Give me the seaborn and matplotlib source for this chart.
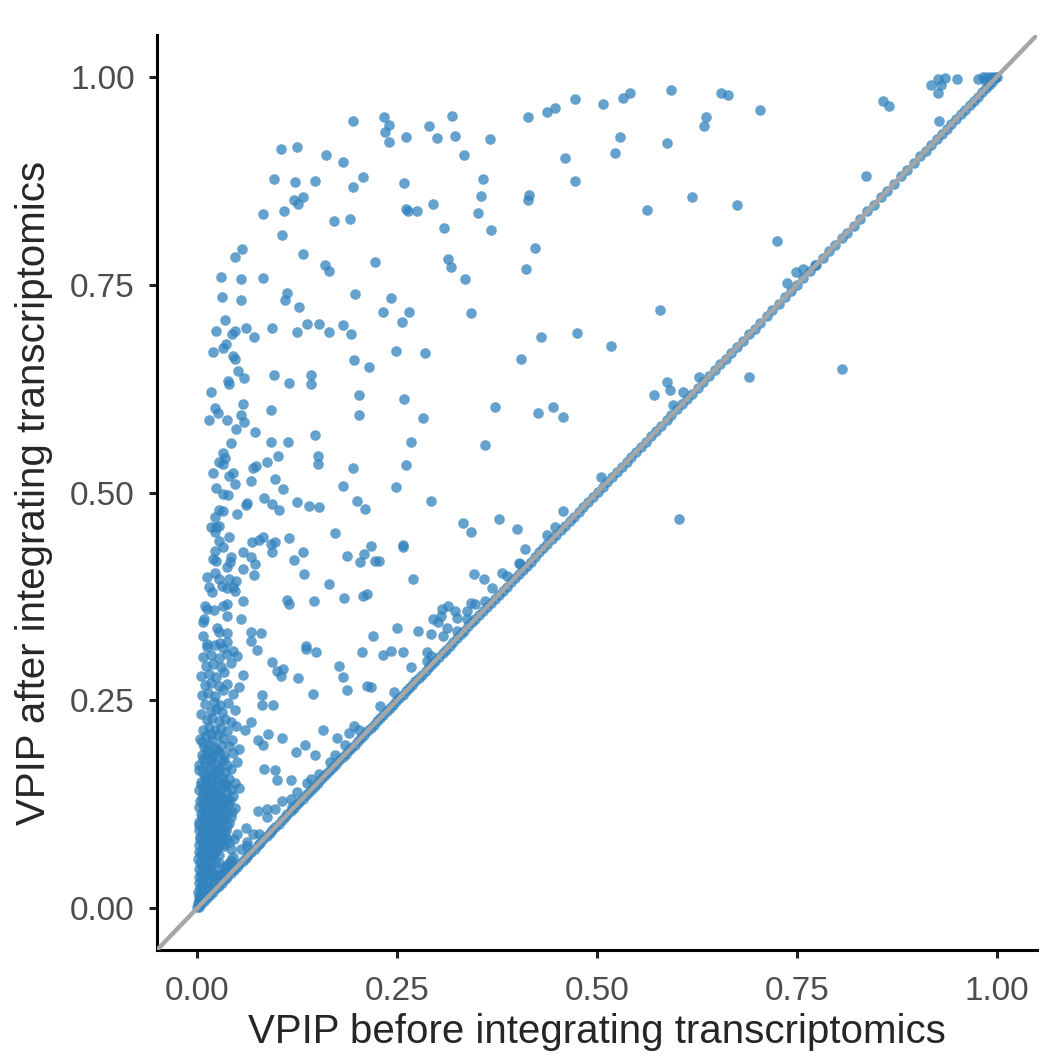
import pandas as pd
import seaborn as sns
import matplotlib.pyplot as plt

# scattered genes well above the diagonal (VPIP before, VPIP after)
upper_before = [0.195, 0.105, 0.125, 0.161, 0.183, 0.208, 0.096, 0.123, 0.147, 0.195, 0.121, 0.132,
                0.126, 0.083, 0.109, 0.171, 0.191, 0.106, 0.056, 0.047, 0.132, 0.160, 0.165, 0.223,
                0.030, 0.055, 0.083, 0.031, 0.055, 0.113, 0.110, 0.128, 0.197, 0.035, 0.024, 0.044,
                0.047, 0.061, 0.071, 0.094, 0.125, 0.137, 0.152, 0.165, 0.182, 0.192,
                0.473, 0.447, 0.437, 0.414, 0.234, 0.240, 0.235, 0.240, 0.319, 0.290, 0.261, 0.300,
                0.323, 0.366, 0.334, 0.460, 0.473, 0.358, 0.259, 0.355, 0.415, 0.414, 0.295, 0.261,
                0.264, 0.275, 0.351, 0.309, 0.368, 0.422, 0.314, 0.318, 0.411, 0.335, 0.242, 0.233,
                0.265, 0.256, 0.342, 0.430, 0.475,
                0.508, 0.532, 0.541, 0.593, 0.655, 0.664, 0.704, 0.636, 0.634, 0.529, 0.523, 0.587,
                0.619, 0.562, 0.675, 0.725, 0.579, 0.749, 0.758, 0.738, 0.773,
                0.917, 0.926, 0.935, 0.930, 0.926, 0.950, 0.976, 0.858, 0.865, 0.928, 0.836,
                0.982, 0.988, 0.993, 0.997, 1.000, 0.985, 0.994]
upper_after = [0.947, 0.913, 0.915, 0.906, 0.897, 0.879, 0.877, 0.873, 0.875, 0.867, 0.852, 0.855,
               0.847, 0.835, 0.838, 0.826, 0.829, 0.809, 0.793, 0.783, 0.787, 0.773, 0.766, 0.777,
               0.759, 0.757, 0.758, 0.735, 0.731, 0.740, 0.731, 0.723, 0.739, 0.707, 0.694, 0.691,
               0.694, 0.698, 0.687, 0.698, 0.693, 0.702, 0.703, 0.693, 0.701, 0.690,
               0.973, 0.962, 0.957, 0.951, 0.952, 0.942, 0.933, 0.921, 0.953, 0.941, 0.927, 0.926,
               0.928, 0.925, 0.906, 0.902, 0.875, 0.877, 0.872, 0.857, 0.858, 0.852, 0.847, 0.841,
               0.838, 0.839, 0.836, 0.818, 0.816, 0.794, 0.781, 0.771, 0.769, 0.757, 0.734, 0.717,
               0.717, 0.705, 0.716, 0.687, 0.692,
               0.967, 0.974, 0.980, 0.984, 0.980, 0.978, 0.960, 0.951, 0.941, 0.927, 0.908, 0.920,
               0.855, 0.840, 0.846, 0.802, 0.719, 0.765, 0.769, 0.752, 0.773,
               0.990, 0.997, 0.998, 0.990, 0.980, 0.997, 0.997, 0.971, 0.965, 0.947, 0.881,
               0.999, 1.000, 1.000, 1.000, 1.000, 0.996, 0.998]

mid_before = [0.020, 0.033, 0.036, 0.045, 0.048, 0.051, 0.059, 0.039, 0.040, 0.017, 0.096, 0.115,
              0.142, 0.143, 0.196, 0.215, 0.203, 0.203, 0.023, 0.026, 0.058, 0.055, 0.059, 0.015,
              0.038, 0.049, 0.072, 0.093, 0.093, 0.114, 0.148, 0.043, 0.032, 0.035, 0.028, 0.033,
              0.087, 0.101, 0.070, 0.074, 0.151, 0.151, 0.020, 0.040, 0.045, 0.048, 0.068, 0.097,
              0.107, 0.195, 0.183, 0.024, 0.032, 0.039, 0.084, 0.094, 0.103, 0.125, 0.140, 0.152,
              0.200, 0.210, 0.061, 0.063, 0.050, 0.028, 0.033, 0.023, 0.018, 0.024, 0.027, 0.023,
              0.040, 0.027, 0.032, 0.069, 0.078, 0.083, 0.093, 0.098, 0.094, 0.115, 0.133, 0.121,
              0.173, 0.218, 0.209, 0.204, 0.188, 0.223, 0.058, 0.068, 0.073, 0.022, 0.020, 0.024,
              0.043, 0.041, 0.038, 0.057, 0.071, 0.134, 0.165, 0.013, 0.022, 0.028, 0.040, 0.049,
              0.015, 0.019, 0.031, 0.038, 0.045, 0.048, 0.058, 0.113, 0.115, 0.146, 0.184, 0.207,
              0.213, 0.010, 0.013, 0.021, 0.032, 0.038, 0.038, 0.055, 0.009, 0.008, 0.025, 0.028,
              0.038, 0.067, 0.080, 0.068, 0.008, 0.013, 0.029, 0.038, 0.136, 0.220,
              0.249, 0.285, 0.405, 0.259, 0.283, 0.372, 0.426, 0.445, 0.458, 0.267, 0.360, 0.261,
              0.249, 0.292, 0.333, 0.343, 0.377, 0.400, 0.457, 0.438, 0.448, 0.410, 0.258, 0.258,
              0.227, 0.402, 0.404, 0.270, 0.346, 0.359, 0.381, 0.388, 0.369, 0.343, 0.348, 0.360,
              0.306, 0.314, 0.322, 0.305, 0.295, 0.301, 0.325, 0.337, 0.338, 0.250, 0.276, 0.293,
              0.308, 0.313, 0.325,
              0.518, 0.690, 0.587, 0.591, 0.571, 0.608, 0.595, 0.628, 0.505, 0.603, 0.806]
mid_after = [0.669, 0.674, 0.678, 0.664, 0.660, 0.646, 0.638, 0.634, 0.630, 0.621, 0.641, 0.632,
             0.641, 0.631, 0.659, 0.651, 0.617, 0.593, 0.602, 0.595, 0.606, 0.593, 0.585, 0.587,
             0.587, 0.576, 0.573, 0.599, 0.561, 0.561, 0.569, 0.559, 0.547, 0.542, 0.537, 0.534,
             0.537, 0.544, 0.530, 0.532, 0.544, 0.534, 0.523, 0.520, 0.523, 0.510, 0.514, 0.516,
             0.504, 0.529, 0.508, 0.506, 0.498, 0.497, 0.494, 0.486, 0.479, 0.489, 0.484, 0.483,
             0.490, 0.480, 0.485, 0.487, 0.474, 0.479, 0.478, 0.470, 0.459, 0.459, 0.460, 0.453,
             0.447, 0.442, 0.434, 0.440, 0.443, 0.447, 0.438, 0.441, 0.428, 0.445, 0.429, 0.419,
             0.451, 0.436, 0.426, 0.417, 0.424, 0.418, 0.429, 0.423, 0.414, 0.430, 0.420, 0.418,
             0.422, 0.416, 0.410, 0.408, 0.401, 0.402, 0.390, 0.399, 0.403, 0.396, 0.396, 0.394,
             0.386, 0.380, 0.388, 0.385, 0.386, 0.382, 0.370, 0.371, 0.366, 0.370, 0.373, 0.376,
             0.378, 0.363, 0.360, 0.359, 0.364, 0.366, 0.352, 0.348, 0.348, 0.344, 0.337, 0.332,
             0.331, 0.332, 0.331, 0.322, 0.327, 0.318, 0.319, 0.320, 0.316, 0.328,
             0.670, 0.668, 0.660, 0.613, 0.589, 0.603, 0.596, 0.603, 0.591, 0.561, 0.557, 0.533,
             0.507, 0.490, 0.463, 0.453, 0.468, 0.456, 0.478, 0.449, 0.458, 0.432, 0.437, 0.435,
             0.418, 0.415, 0.414, 0.396, 0.402, 0.396, 0.403, 0.400, 0.385, 0.367, 0.366, 0.370,
             0.360, 0.364, 0.358, 0.351, 0.348, 0.344, 0.349, 0.348, 0.357, 0.337, 0.334, 0.330,
             0.327, 0.337, 0.333,
             0.676, 0.639, 0.633, 0.623, 0.617, 0.621, 0.605, 0.639, 0.519, 0.468, 0.648]

low_before = [0.075, 0.136, 0.149, 0.206, 0.094, 0.100, 0.108, 0.105, 0.126, 0.177, 0.182, 0.188,
              0.212, 0.217, 0.145, 0.081, 0.081, 0.095, 0.068, 0.060, 0.089, 0.076, 0.083, 0.106,
              0.158, 0.175, 0.190, 0.196, 0.135, 0.124, 0.148, 0.084, 0.097, 0.100, 0.118, 0.138,
              0.152, 0.166, 0.076, 0.088, 0.088, 0.098, 0.106, 0.119, 0.061, 0.050, 0.063, 0.078,
              0.233, 0.242, 0.258, 0.267, 0.287, 0.288, 0.292, 0.246, 0.229,
              0.118, 0.125, 0.142, 0.172, 0.185, 0.203, 0.062, 0.055, 0.045, 0.035, 0.028, 0.040,
              0.070]
low_after = [0.311, 0.312, 0.308, 0.308, 0.296, 0.286, 0.288, 0.280, 0.277, 0.291, 0.278, 0.263,
             0.267, 0.266, 0.258, 0.257, 0.245, 0.244, 0.224, 0.215, 0.210, 0.202, 0.196, 0.205,
             0.215, 0.205, 0.211, 0.219, 0.197, 0.188, 0.184, 0.168, 0.167, 0.154, 0.154, 0.151,
             0.162, 0.176, 0.117, 0.120, 0.110, 0.120, 0.129, 0.122, 0.097, 0.089, 0.075, 0.090,
             0.305, 0.309, 0.308, 0.290, 0.308, 0.298, 0.304, 0.260, 0.243,
             0.132, 0.140, 0.156, 0.185, 0.197, 0.214, 0.080, 0.071, 0.062, 0.050, 0.041, 0.055,
             0.090]

# crowded cloud of genes with small VPIP before integration
dense_before = [0.000, 0.001, 0.002, 0.003, 0.001, 0.004, 0.002, 0.006, 0.008, 0.003, 0.005, 0.010,
                0.002, 0.007, 0.012, 0.015, 0.004, 0.009, 0.006, 0.010, 0.015, 0.020, 0.025, 0.022,
                0.018, 0.028, 0.038, 0.043, 0.030, 0.035,
                0.001, 0.006, 0.011, 0.016, 0.020, 0.003, 0.009, 0.014, 0.019, 0.024, 0.002, 0.007,
                0.012, 0.017, 0.022, 0.028, 0.004, 0.009, 0.015, 0.020, 0.025, 0.031, 0.002, 0.007,
                0.013, 0.018, 0.024, 0.030, 0.036, 0.042, 0.046, 0.040, 0.034,
                0.003, 0.009, 0.015, 0.021, 0.027, 0.033, 0.040, 0.005, 0.011, 0.017, 0.023, 0.029,
                0.036, 0.044, 0.002, 0.008, 0.014, 0.020, 0.026, 0.032, 0.039, 0.048, 0.006, 0.012,
                0.018, 0.024, 0.031, 0.037, 0.045, 0.003, 0.010, 0.016, 0.022, 0.029, 0.035, 0.042,
                0.052,
                0.005, 0.011, 0.018, 0.025, 0.032, 0.040, 0.047, 0.008, 0.015, 0.021, 0.028, 0.035,
                0.042, 0.003, 0.010, 0.017, 0.024, 0.031, 0.038, 0.050, 0.006, 0.013, 0.020, 0.027,
                0.034, 0.045, 0.009, 0.016, 0.023, 0.030, 0.040, 0.053,
                0.004, 0.011, 0.019, 0.026, 0.033, 0.044, 0.007, 0.015, 0.022, 0.030, 0.038, 0.049,
                0.012, 0.019, 0.027, 0.035, 0.042, 0.005, 0.017, 0.024, 0.031, 0.047, 0.010, 0.021,
                0.029, 0.039,
                0.006, 0.014, 0.023, 0.033, 0.045, 0.010, 0.018, 0.027, 0.038, 0.052, 0.005, 0.015,
                0.024, 0.034, 0.058, 0.011, 0.020, 0.030, 0.043, 0.007, 0.017, 0.027, 0.037, 0.050,
                0.013, 0.023, 0.033, 0.045]
dense_after = [0.002, 0.006, 0.010, 0.015, 0.020, 0.024, 0.030, 0.028, 0.034, 0.038, 0.043, 0.040,
               0.047, 0.050, 0.046, 0.052, 0.055, 0.058, 0.012, 0.015, 0.025, 0.030, 0.035, 0.040,
               0.048, 0.055, 0.052, 0.058, 0.042, 0.045,
               0.060, 0.064, 0.062, 0.060, 0.063, 0.068, 0.071, 0.070, 0.072, 0.069, 0.076, 0.079,
               0.078, 0.081, 0.079, 0.080, 0.086, 0.089, 0.087, 0.090, 0.088, 0.086, 0.094, 0.097,
               0.096, 0.099, 0.097, 0.095, 0.093, 0.072, 0.084, 0.080, 0.075,
               0.104, 0.106, 0.103, 0.107, 0.105, 0.108, 0.103, 0.113, 0.116, 0.113, 0.117, 0.114,
               0.112, 0.116, 0.122, 0.125, 0.123, 0.127, 0.124, 0.122, 0.126, 0.121, 0.133, 0.136,
               0.133, 0.137, 0.134, 0.132, 0.135, 0.142, 0.145, 0.143, 0.146, 0.141, 0.147, 0.143,
               0.145,
               0.152, 0.155, 0.153, 0.157, 0.152, 0.156, 0.151, 0.163, 0.166, 0.162, 0.167, 0.164,
               0.168, 0.172, 0.175, 0.178, 0.174, 0.177, 0.173, 0.176, 0.184, 0.186, 0.183, 0.188,
               0.185, 0.187, 0.194, 0.197, 0.193, 0.196, 0.195, 0.192,
               0.204, 0.207, 0.203, 0.208, 0.205, 0.203, 0.215, 0.218, 0.214, 0.217, 0.213, 0.219,
               0.226, 0.229, 0.225, 0.228, 0.224, 0.234, 0.237, 0.240, 0.236, 0.238, 0.246, 0.248,
               0.245, 0.247,
               0.256, 0.259, 0.255, 0.262, 0.258, 0.268, 0.271, 0.267, 0.270, 0.266, 0.279, 0.282,
               0.278, 0.284, 0.281, 0.291, 0.294, 0.290, 0.295, 0.302, 0.305, 0.301, 0.306, 0.303,
               0.314, 0.317, 0.313, 0.310]

# more genes packed into the bottom of the cloud
packed_before = [0.004, 0.008, 0.012, 0.006, 0.014, 0.019, 0.010, 0.017, 0.023, 0.005, 0.013, 0.021,
                 0.027, 0.008, 0.016, 0.026, 0.033, 0.004, 0.012, 0.020, 0.029, 0.038, 0.007, 0.015,
                 0.025, 0.034, 0.003, 0.012, 0.020, 0.028, 0.037, 0.006, 0.014, 0.025, 0.033, 0.043,
                 0.009, 0.019, 0.028, 0.036, 0.004, 0.013, 0.022, 0.032, 0.041, 0.008, 0.018, 0.027,
                 0.037, 0.005, 0.014, 0.025, 0.036, 0.010, 0.020, 0.031, 0.003, 0.015, 0.026, 0.008,
                 0.019, 0.034, 0.012, 0.025, 0.006, 0.018]
packed_after = [0.012, 0.018, 0.026, 0.035, 0.033, 0.040, 0.050, 0.045, 0.053, 0.065, 0.066, 0.067,
                0.064, 0.074, 0.075, 0.074, 0.078, 0.083, 0.084, 0.082, 0.085, 0.083, 0.092, 0.093,
                0.091, 0.090, 0.100, 0.101, 0.100, 0.102, 0.099, 0.110, 0.110, 0.111, 0.109, 0.110,
                0.119, 0.120, 0.119, 0.120, 0.129, 0.130, 0.129, 0.128, 0.130, 0.139, 0.139, 0.138,
                0.140, 0.148, 0.149, 0.148, 0.149, 0.158, 0.159, 0.158, 0.167, 0.170, 0.169, 0.180,
                0.181, 0.180, 0.190, 0.190, 0.200, 0.210]

# genes whose VPIP is unchanged (sit on the identity line)
diag_vpip = [0.002, 0.005, 0.009, 0.013, 0.016, 0.020, 0.024, 0.027, 0.031, 0.035, 0.038, 0.042,
             0.046, 0.050, 0.053, 0.057, 0.061, 0.064, 0.068, 0.072, 0.076, 0.079, 0.083, 0.087,
             0.091, 0.094, 0.098, 0.102, 0.106, 0.110, 0.113, 0.117, 0.121, 0.125, 0.128, 0.132,
             0.136, 0.140, 0.144, 0.147, 0.151, 0.155, 0.159, 0.163, 0.166, 0.170, 0.174, 0.178,
             0.182, 0.186, 0.190, 0.193, 0.197, 0.201, 0.205, 0.209, 0.213, 0.217, 0.221, 0.225,
             0.229, 0.233, 0.237, 0.241, 0.245, 0.249, 0.253, 0.257, 0.261, 0.265, 0.269, 0.273,
             0.277, 0.281, 0.286, 0.290, 0.294, 0.298, 0.302, 0.307, 0.311, 0.316, 0.320, 0.325,
             0.330, 0.334, 0.339, 0.344, 0.348, 0.353, 0.358, 0.362, 0.367, 0.372, 0.377, 0.382,
             0.387, 0.392, 0.397, 0.402, 0.407, 0.412, 0.417, 0.422, 0.428, 0.433, 0.438, 0.444,
             0.449, 0.455, 0.460, 0.466, 0.471, 0.477, 0.483, 0.489, 0.495, 0.501, 0.507, 0.513,
             0.519, 0.525, 0.531, 0.537, 0.543, 0.549, 0.555, 0.561, 0.568, 0.574, 0.580, 0.587,
             0.593, 0.600, 0.606, 0.613, 0.619, 0.626, 0.633, 0.640, 0.647, 0.654, 0.661, 0.668,
             0.675, 0.682, 0.690, 0.697, 0.704, 0.712, 0.719, 0.727, 0.735, 0.742, 0.750, 0.758,
             0.766, 0.774, 0.782, 0.790, 0.798, 0.806, 0.812, 0.821, 0.829, 0.838, 0.846, 0.855,
             0.863, 0.871, 0.880, 0.888, 0.896, 0.904, 0.911, 0.918, 0.925, 0.931, 0.937, 0.943,
             0.949, 0.955, 0.960, 0.966, 0.971, 0.976, 0.981, 0.986, 0.990, 0.994, 0.998]

before = upper_before + mid_before + low_before + dense_before + packed_before + diag_vpip
after = upper_after + mid_after + low_after + dense_after + packed_after + diag_vpip
df = pd.DataFrame({'before': before, 'after': after})

sns.set_style("ticks")
plt.rcParams['font.family'] = ['Liberation Sans', 'DejaVu Sans']

fig, ax = plt.subplots(figsize=(10.45, 10.61), dpi=100)
fig.subplots_adjust(left=0.1502, right=0.9923, top=0.967, bottom=0.1046)

sns.scatterplot(data=df, x='before', y='after', ax=ax, color='#3182bd',
                alpha=0.75, s=58, linewidth=0)
ax.axline((0, 0), (1, 1), color='#a6a6a6', lw=3.2, zorder=3)

ticks = [0, 0.25, 0.5, 0.75, 1]
tick_labels = ['0.00', '0.25', '0.50', '0.75', '1.00']
ax.set_xlim(-0.05, 1.05)
ax.set_ylim(-0.05, 1.05)
ax.set_xticks(ticks, tick_labels)
ax.set_yticks(ticks, tick_labels)
ax.tick_params(length=6, width=2.2, color='#222222', labelsize=24,
               labelcolor='#4d4d4d')
ax.tick_params(axis='x', pad=13)
ax.tick_params(axis='y', pad=10)
sns.despine(ax=ax)
for side in ['left', 'bottom']:
    ax.spines[side].set_linewidth(2.2)
    ax.spines[side].set_color('black')

ax.set_xlabel('VPIP before integrating transcriptomics', fontsize=29, labelpad=4)
ax.set_ylabel('VPIP after integrating transcriptomics', fontsize=29, labelpad=12)

fig.savefig('out.png', dpi=100)
